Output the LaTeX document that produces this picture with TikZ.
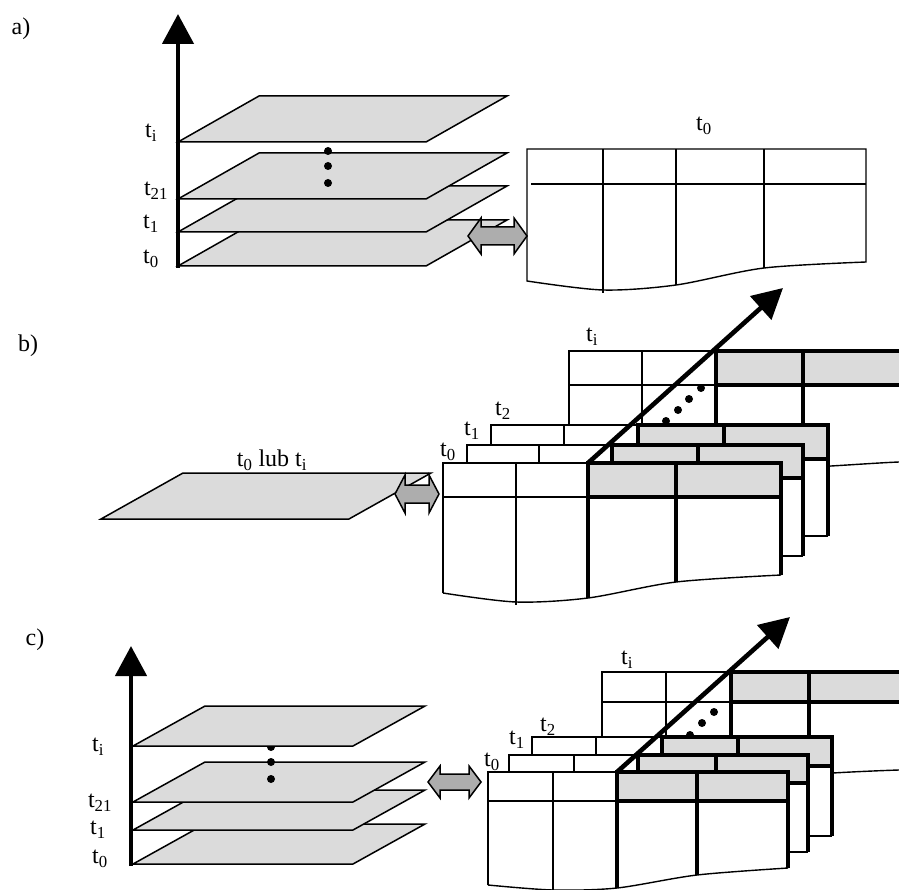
\documentclass[tikz,border=0pt]{standalone}
\usepackage{fontspec}
\setmainfont{Liberation Serif}
\usetikzlibrary{arrows.meta}
\tikzset{
	thinln/.style={line width=1.4pt},
	thickln/.style={line width=3.8pt},
	plane/.style={draw, fill=black!14, line width=1.5pt},
	head/.style={fill=black!14},
	axis/.style={line width=4.6pt, -{Triangle[length=30pt,width=31pt]}},
	dblarr/.style={draw, fill=black!32, line width=1.5pt},
	lbl/.style={font=\fontsize{24}{28}\selectfont, inner sep=0pt},
}
\def\plane(#1,#2)(#3:#4:#5){\draw[plane] (#1,#2) -- ++(#3,0) -- ++(#4,-#5) -- ++(-#3,0) -- cycle;}
\def\dblarrow(#1,#2,#3)(#4:#5:#6){\draw[dblarr] (#1,#3) -- ++(#4,-#5) -- ++(0,{#5-#6}) -- ({#2-#4},{#3-#6}) -- ++(0,{#6-#5}) -- (#2,#3) -- ({#2-#4},{#3+#5}) -- ++(0,{#6-#5}) -- ({#1+#4},{#3+#6}) -- ++(0,{#5-#6}) -- cycle;}
\def\backtable(#1,#2,#3,#4,#5)(#6,#7,#8){%
	\fill[white] (#1,#6) rectangle (#5,#8);
	\fill[head] (#3,#6) rectangle (#5,#7);
	\draw[thinln] (#3,#6) -- (#1,#6) -- (#1,#8) -- (#5,#8) (#1,#7) -- (#3,#7) (#2,#6) -- (#2,#8);
	\draw[thickln] (#3,#8) -- (#3,#6) -- (#5,#6) -- (#5,#8) (#3,#7) -- (#5,#7) (#4,#6) -- (#4,#8);}

\begin{document}
\begin{tikzpicture}[x=1pt, y=-1pt]
		\useasboundingbox (0,0) rectangle (899,890);
		
		%%%%% a) %%%%%
		\node[lbl] (lbl-a) at (21,29) {a)};
		\plane(178,266)(248:81:46)
		\plane(178,232)(248:81:46)
		\plane(178,199)(248:81:46)
		\fill (328,151) circle (4pt) (328,166) circle (4pt) (328,183) circle (4pt);
		\plane(178,142)(248:81:46)
		\draw[axis] (178,268) -- (178,14);
		\node[lbl] (a-ti) at (151,133) {t\textsubscript{i}};
		\node[lbl] (a-t21) at (156,191) {t\textsubscript{21}};
		\node[lbl] (a-t1) at (151,224) {t\textsubscript{1}};
		\node[lbl] (a-t0) at (151,259) {t\textsubscript{0}};
		
		\draw[thinln, fill=white] (527,149) -- (866,149) -- plot[smooth] coordinates {(866,262) (764,268) (676,285) (603,290) (527,281)} -- cycle;
		\draw[thinln] (531,184) -- (866,184) (603,149) -- (603,293) (676,149) -- (676,285) (764,149) -- (764,268);
		\node[lbl] (a-tab) at (704,126) {t\textsubscript{0}};
		\dblarrow(468,527,236)(13:18:9)
		
		%%%%% b) %%%%%
		\node[lbl] (lbl-b) at (28,346) {b)};
		\plane(101,519)(248:82:46)
		\node[lbl] (b-plane) at (272,460) {t\textsubscript{0} lub t\textsubscript{i}};
		\dblarrow(395,439,494)(10:19:9)
		
		\fill[white] (569,351) -- (960,351) -- (960,461) -- plot[smooth] coordinates {(899,462) (831,466) (760,470) (569,470)} -- cycle;
		\fill[head] (716,351) rectangle (960,385);
		\draw[thinln] (716,351) -- (569,351) -- (569,470) (569,385) -- (716,385) (642,351) -- (642,470);
		\draw[thinln] plot[smooth] coordinates {(569,470) (760,470) (831,466) (899,462) (960,461)};
		\draw[thickln] (716,470) -- (716,351) -- (960,351) (716,385) -- (960,385) (803,351) -- (803,470);
		\fill (666,421) circle (4pt) (678,410) circle (4pt) (689,399) circle (4pt) (701,388) circle (4pt);
		\backtable(491,564,638,724,828)(425,459,536)
		\backtable(467,539,612,698,803)(445,478,556)
		\fill[white] (443,463) -- (781,463) -- plot[smooth] coordinates {(781,575) (676,582) (588,598) (516,602) (443,593)} -- cycle;
		\fill[head] (588,463) rectangle (781,497);
		\draw[thinln] (588,463) -- (443,463) -- (443,593) (443,497) -- (588,497) (516,463) -- (516,605);
		\draw[thinln] plot[smooth] coordinates {(443,593) (516,602) (588,598) (676,582) (781,575)};
		\draw[thickln] (588,598) -- (588,463) -- (781,463) -- (781,575) (588,497) -- (781,497) (676,463) -- (676,582);
		\node[lbl] (b-t0) at (448,452) {t\textsubscript{0}};
		\node[lbl] (b-t1) at (472,431) {t\textsubscript{1}};
		\node[lbl] (b-t2) at (503,411) {t\textsubscript{2}};
		\node[lbl] (b-ti) at (592,337) {t\textsubscript{i}};
		\draw[axis] (588,463) -- (783,288);
		
		%%%%% c) %%%%%
		\node[lbl] (lbl-c) at (35,640) {c)};
		\plane(133,864)(220:72:40)
		\plane(133,830)(220:72:40)
		\plane(133,802)(220:72:40)
		\fill (271,747) circle (4pt) (271,762) circle (4pt) (271,779) circle (4pt);
		\plane(133,746)(220:72:40)
		\draw[axis] (131,866) -- (131,646);
		\node[lbl] (c-ti) at (98,747) {t\textsubscript{i}};
		\node[lbl] (c-t21) at (100,803) {t\textsubscript{21}};
		\node[lbl] (c-t1) at (98,830) {t\textsubscript{1}};
		\node[lbl] (c-t0) at (100,859) {t\textsubscript{0}};
		\dblarrow(428,481,782)(12:16:8)
		
		\fill[white] (602,672) -- (960,672) -- (960,769) -- plot[smooth] coordinates {(899,770) (833,773) (770,778) (602,778)} -- cycle;
		\fill[head] (731,672) rectangle (960,702);
		\draw[thinln] (731,672) -- (602,672) -- (602,778) (602,702) -- (731,702) (666,672) -- (666,778);
		\draw[thinln] plot[smooth] coordinates {(602,778) (770,778) (833,773) (899,770) (960,769)};
		\draw[thickln] (731,778) -- (731,672) -- (960,672) (731,702) -- (960,702) (809,672) -- (809,778);
		\fill (690,735) circle (4pt) (702,723) circle (4pt) (714,712) circle (4pt);
		\backtable(532,596,662,738,832)(737,766,836)
		\backtable(509,574,638,716,808)(755,783,852)
		\fill[white] (488,772) -- (788,772) -- plot[smooth] coordinates {(788,868) (697,875) (617,888) (553,890) (488,885)} -- cycle;
		\fill[head] (617,772) rectangle (788,801);
		\draw[thinln] (617,772) -- (488,772) -- (488,885) (488,801) -- (617,801) (553,772) -- (553,893);
		\draw[thinln] plot[smooth] coordinates {(488,885) (553,890) (617,888) (697,875) (788,868)};
		\draw[thickln] (617,888) -- (617,772) -- (788,772) -- (788,868) (617,801) -- (788,801) (697,772) -- (697,875);
		\node[lbl] (c-tab-t0) at (492,762) {t\textsubscript{0}};
		\node[lbl] (c-tab-t1) at (517,740) {t\textsubscript{1}};
		\node[lbl] (c-tab-t2) at (548,727) {t\textsubscript{2}};
		\node[lbl] (c-tab-ti) at (627,660) {t\textsubscript{i}};
		\draw[axis] (617,772) -- (790,617);
		
	\end{tikzpicture}
\end{document}
